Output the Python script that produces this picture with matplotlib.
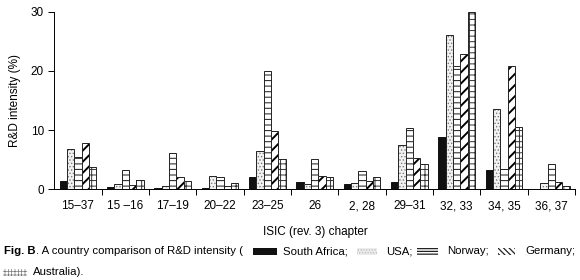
import matplotlib
matplotlib.use("Agg")
import matplotlib.pyplot as plt
from matplotlib.patches import Rectangle
import numpy as np

plt.rcParams['font.family'] = ['Liberation Sans', 'DejaVu Sans']
plt.rcParams['hatch.linewidth'] = 0.8

categories = ["15–37", "15 –16", "17–19", "20–22", "23–25", "26", "2, 28",
              "29–31", "32, 33", "34, 35", "36, 37"]
south_africa = [1.4, 0.45, 0.15, 0.3, 2.1, 1.25, 0.9, 1.25, 8.8, 3.3, 0.0]
usa = [6.8, 0.9, 0.6, 2.3, 6.5, 0.85, 1.0, 7.4, 26.1, 13.5, 1.1]
norway = [5.4, 3.3, 6.1, 2.15, 20.0, 5.1, 3.05, 10.3, 20.9, 3.5, 4.3]
germany = [7.9, 0.7, 2.0, 0.6, 9.9, 2.25, 1.4, 5.35, 22.8, 20.9, 1.25]
australia = [3.7, 1.6, 1.35, 1.0, 5.2, 2.1, 2.1, 4.2, 30.0, 10.6, 0.6]
series_names = ["South Africa", "USA", "Norway", "Germany", "Australia"]

fig = plt.figure(figsize=(5.8, 2.8), dpi=100)
ax = fig.add_axes([54.3/580, 1-189.3/280, (575-54.3)/580, (189.3-11.7)/280])

x = np.arange(len(categories))
w = 0.156
series = [south_africa, usa, norway, germany, australia]
styles = [
    dict(face='black', hatch=None, hc='black', hlw=0.8),
    dict(face='#f2f2f2', hatch='.....', hc='#7a7a7a', hlw=0.6),
    dict(face='white', hatch='---', hc='#333333', hlw=0.8),
    dict(face='white', hatch='///', hc='black', hlw=1.4),
    dict(face='white', hatch='+++', hc='#333333', hlw=0.7),
]
for i, (vals, st) in enumerate(zip(series, styles)):
    pos = x + (i - 2) * w
    if st['hatch']:
        plt.rcParams['hatch.linewidth'] = st['hlw']
        bars = ax.bar(pos, vals, w, color=st['face'], hatch=st['hatch'],
                      edgecolor=st['hc'], linewidth=0)
        for b in bars:
            try:
                b.set_hatch_linewidth(st['hlw'])
            except Exception:
                pass
        ax.bar(pos, vals, w, fill=False, edgecolor='#222222', linewidth=0.7)
    else:
        ax.bar(pos, vals, w, color='#111111', edgecolor='#111111', linewidth=0.7)
plt.rcParams['hatch.linewidth'] = 0.8

ax.set_xlim(-0.5, len(categories) - 0.5)
ax.set_ylim(0, 30)
ax.set_yticks([0, 10, 20, 30])
ax.set_xticks(x)
ax.set_xticklabels(categories, fontsize=8.5)
ax.set_xticks(np.arange(len(categories)) + 0.5, minor=True)
ax.tick_params(axis='x', which='major', length=0, pad=8)
ax.tick_params(axis='x', which='minor', length=4, width=0.7, direction='out')
ax.tick_params(axis='y', labelsize=8.5, length=4, width=0.7, direction='out')
for s in ['top', 'right']:
    ax.spines[s].set_visible(False)
for s in ['left', 'bottom']:
    ax.spines[s].set_linewidth(0.7)
ax.set_ylabel("R&D intensity (%)", fontsize=8.5, labelpad=7)
fig.text(315/580, 1-232/280, "ISIC (rev. 3) chapter", fontsize=8.5,
         ha='center', va='center')

# caption
fs = 8.2
y1 = 1 - 251.5/280
y2 = 1 - 272/280
renderer = fig.canvas.get_renderer()
t0 = fig.text(4/580, y1, "Fig. B", fontsize=fs, fontweight='bold', va='center')
bb = t0.get_window_extent(renderer=renderer)
fig.text(bb.x1/580, y1, ". A country comparison of R&D intensity (", fontsize=fs,
         va='center')
fig.text(283/580, y1, "South Africa;", fontsize=fs, va='center')
fig.text(386/580, y1, "USA;", fontsize=fs, va='center')
fig.text(447/580, y1, "Norway;", fontsize=fs, va='center')
fig.text(525/580, y1, "Germany;", fontsize=fs, va='center')
fig.text(33/580, y2, "Australia).", fontsize=fs, va='center')

def legpatch(x0, x1, yc, face, hatch, hc, hlw=0.8):
    plt.rcParams['hatch.linewidth'] = hlw
    r = Rectangle((x0/580, yc - 3.5/280), (x1-x0)/580, 7/280, transform=fig.transFigure,
                  facecolor=face, hatch=hatch, edgecolor=hc, linewidth=0)
    try:
        r.set_hatch_linewidth(hlw)
    except Exception:
        pass
    fig.patches.append(r)

legpatch(253, 277, y1, '#111111', None, '#111111')
legpatch(357, 377, y1, '#ececec', '......', '#b0b0b0', 0.5)
legpatch(417, 438, y1, 'white', '------', '#222222', 0.9)
legpatch(498, 515, y1, 'white', '\\\\\\\\\\\\', '#222222', 0.9)
legpatch(3, 27, y2, 'white', '+++++', '#777777', 0.5)

fig.savefig("out.png", dpi=100)
